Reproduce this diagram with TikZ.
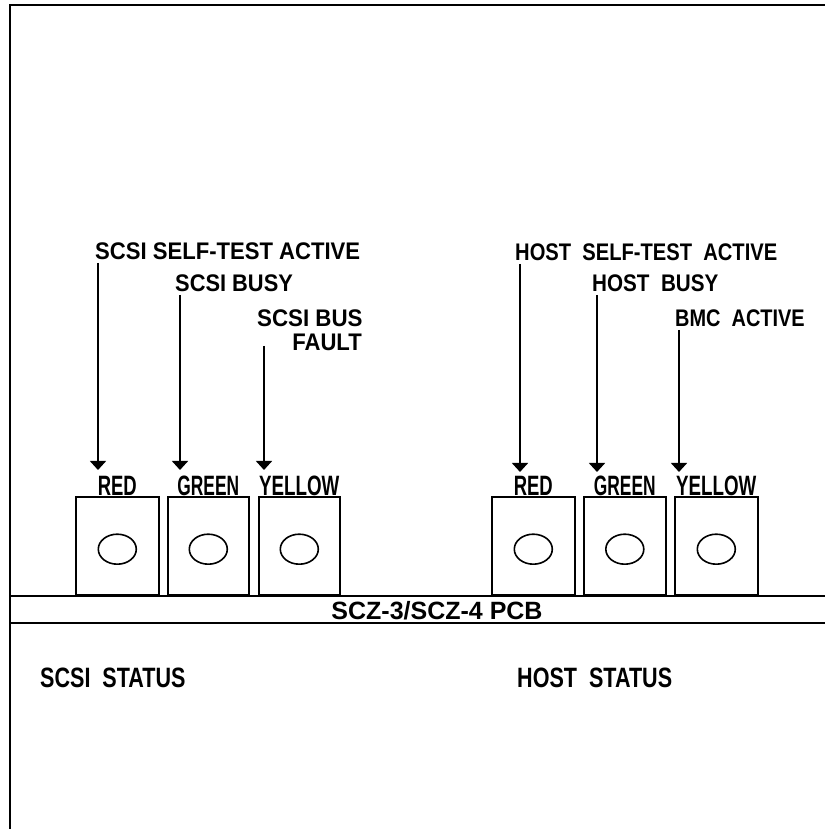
\documentclass[tikz,border=0pt]{standalone}
\usepackage{fontspec}
\usepackage{graphicx}
\setmainfont{Liberation Sans}
\usetikzlibrary{arrows.meta,shapes.geometric}
\newcommand\sqz[2]{\scalebox{#1}[1]{#2}}
\tikzset{
  frameline/.style={line width=2.8pt},
  pcbline/.style={line width=2.6pt},
  ledbox/.style={draw, line width=1.6pt},
  lens/.style={draw, line width=1.6pt},
  arr/.style={line width=1.6pt, -{Triangle[width=16pt,length=9pt]}},
  toplab/.style={inner sep=0pt, font=\bfseries\fontsize{24}{26}\selectfont},
  boxlab/.style={inner sep=0pt, anchor=base, font=\bfseries\fontsize{28}{30}\selectfont},
  pcblab/.style={inner sep=0pt, anchor=base, font=\bfseries\fontsize{25}{27}\selectfont},
  statlab/.style={inner sep=0pt, anchor=base west, font=\bfseries\fontsize{28}{30}\selectfont},
}
\begin{document}
\begin{tikzpicture}[x=1pt,y=1pt]
\useasboundingbox (0,0) rectangle (825,829);
% frame
\draw[frameline] (10,0) -- (10,824) -- (825,824);
% PCB band
\draw[pcbline] (10,233) -- (825,233);
\draw[pcbline] (10,206) -- (825,206);
\node[pcblab] (pcb) at (437,209) {\sqz{1.0}{SCZ-3/SCZ-4 PCB}};
% LED boxes
\foreach \n/\a/\b in {b1/75/158, b2/167/248, b3/258/339, b4/491/574, b5/583/665, b6/674/757}{
  \node[ledbox, minimum width=\b pt-\a pt, minimum height=98pt, anchor=south west, inner sep=0pt] (\n) at (\a,233) {};
  \node[lens, ellipse, minimum width=38pt, minimum height=30pt, inner sep=0pt] (\n e) at ([yshift=-3pt]\n.center) {};
}
% colour labels
\node[boxlab] (l1) at ([yshift=1pt]b1.north) {\sqz{0.66}{RED}};
\node[boxlab] (l2) at ([yshift=1pt]b2.north) {\sqz{0.62}{GREEN}};
\node[boxlab] (l3) at ([yshift=1pt]b3.north) {\sqz{0.67}{YELLOW}};
\node[boxlab] (l4) at ([yshift=1pt]b4.north) {\sqz{0.66}{RED}};
\node[boxlab] (l5) at ([yshift=1pt]b5.north) {\sqz{0.62}{GREEN}};
\node[boxlab] (l6) at ([yshift=1pt]b6.north) {\sqz{0.67}{YELLOW}};
% function labels
\node[toplab, anchor=base west] (t1) at (95,569.5) {\sqz{0.92}{SCSI SELF-TEST ACTIVE}};
\node[toplab, anchor=base west] (t2) at (175,537.5) {\sqz{0.91}{SCSI BUSY}};
\node[toplab, anchor=base west] (t3) at (257,502.5) {\sqz{0.93}{SCSI BUS}};
\node[toplab, anchor=base east] (t3b) at (362,478.5) {\sqz{0.92}{FAULT}};
\node[toplab, anchor=base west] (t4) at (515,568.5) {\sqz{0.84}{HOST\ \ SELF-TEST\ \ ACTIVE}};
\node[toplab, anchor=base west] (t5) at (592,537.5) {\sqz{0.86}{HOST\ \ BUSY}};
\node[toplab, anchor=base west] (t6) at (675,502.5) {\sqz{0.83}{BMC\ \ ACTIVE}};
% arrow tips
\coordinate (p1) at (98,359);
\coordinate (p2) at (180,359);
\coordinate (p3) at (264,359);
\coordinate (p4) at (520,357);
\coordinate (p5) at (597,357);
\coordinate (p6) at (679,357);
\draw[arr] (t1.south west -| p1) ++(0,-3) -- (p1);
\draw[arr] (t2.south west -| p2) ++(0,-3) -- (p2);
\draw[arr] (t3b.south west -| p3) ++(0,5) -- (p3);
\draw[arr] (t4.south west -| p4) ++(0,-3) -- (p4);
\draw[arr] (t5.south west -| p5) ++(0,-3) -- (p5);
\draw[arr] (t6.south west -| p6) ++(0,-3) -- (p6);
% status labels
\node[statlab] (s1) at (40,141) {\sqz{0.77}{SCSI\ \ STATUS}};
\node[statlab] (s2) at (517,141) {\sqz{0.77}{HOST\ \ STATUS}};
\end{tikzpicture}
\end{document}
